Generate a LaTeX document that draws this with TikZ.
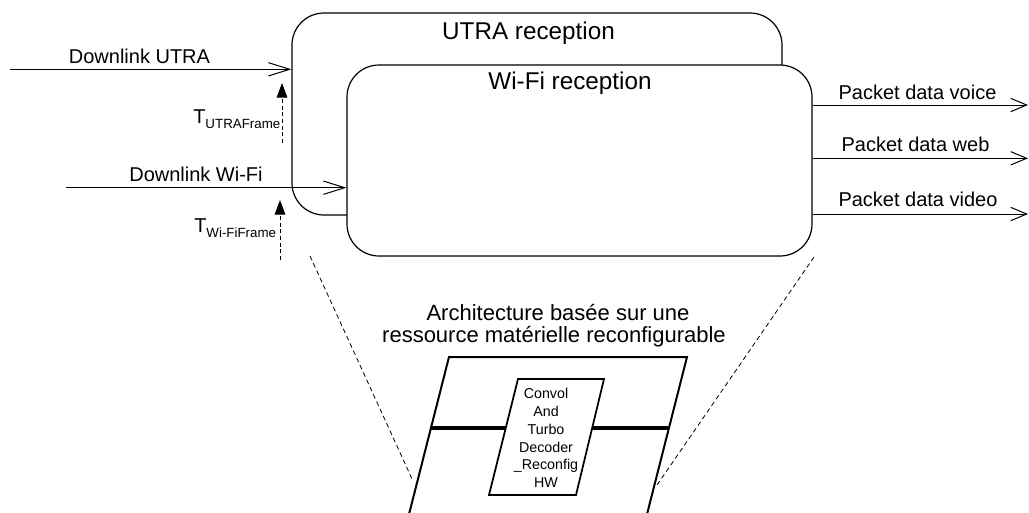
\documentclass[tikz,border=0pt]{standalone}
\usepackage{fontspec}
\setmainfont{Liberation Sans}
\usetikzlibrary{arrows.meta}
\begin{document}
\begin{tikzpicture}[x=0.75pt,y=-0.75pt,
  rbox/.style={draw, line width=0.9pt, rounded corners=24pt, fill=white, inner sep=0pt},
  title/.style={font=\fontsize{18.2}{22}\selectfont, anchor=base, inner sep=0pt},
  lbl/.style={font=\fontsize{15}{18}\selectfont, anchor=base, inner sep=0pt},
  flow/.style={line width=0.75pt, -{Straight Barb[length=16pt,width=10pt,line width=0.75pt]}},
  pflow/.style={line width=0.75pt, -{Straight Barb[length=12pt,width=10pt,line width=0.75pt]}},
  tarrow/.style={line width=0.75pt, dash pattern=on 3pt off 2pt, -{Triangle[length=11pt,width=8pt]}},
  zoomline/.style={line width=0.6pt, dash pattern=on 3.5pt off 2.5pt},
  para/.style={line width=1.5pt},
  bar/.style={line width=2.6pt},
  archtext/.style={font=\fontsize{16.5}{20}\selectfont, anchor=base, inner sep=0pt},
  hwtext/.style={font=\fontsize{10.7}{13.35}\selectfont, align=center, inner sep=0pt}
]
\useasboundingbox (0,0) rectangle (1029,512);

% reception boxes
\node[rbox, minimum width=367.5pt, minimum height=151.5pt] (utra) at (537,114) {};
\node[title] (utratitle) at (528.5,39) {UTRA reception};
\node[rbox, minimum width=348.75pt, minimum height=143.25pt] (wifi) at (579.5,160.5) {};
\node[title] (wifititle) at (570,89.5) {Wi-Fi reception};

% downlink inputs
\coordinate (ulsrc) at (10,69.3);
\draw[flow] (ulsrc) -- (ulsrc -| utra.west);
\node[lbl] (ullbl) at (139.5,63.3) {Downlink UTRA};
\coordinate (wlsrc) at (66,187.7);
\draw[flow] (wlsrc) -- (wlsrc -| wifi.west);
\node[lbl] (wllbl) at (196,181.7) {Downlink Wi-Fi};

% frame timing arrows
\coordinate (tu1) at (282,143);
\coordinate (tu2) at (282,83);
\draw[tarrow] (tu1) -- (tu2);
\node[lbl, anchor=base west] (tulbl) at (193,123) {T\raisebox{-5\dimexpr0.75pt\relax}{\fontsize{10}{12}\selectfont UTRAFrame}};
\coordinate (tw1) at (280,260);
\coordinate (tw2) at (280,200);
\draw[tarrow] (tw1) -- (tw2);
\node[lbl, anchor=base west] (twlbl) at (194,232) {T\raisebox{-5\dimexpr0.75pt\relax}{\fontsize{10}{12}\selectfont Wi-FiFrame}};

% packet outputs
\coordinate (pv) at (1028,105);
\draw[pflow] (wifi.east |- pv) -- (pv);
\node[lbl] (pvlbl) at (917.5,99.3) {Packet data voice};
\coordinate (pw) at (1028,158.3);
\draw[pflow] (wifi.east |- pw) -- (pw);
\node[lbl] (pwlbl) at (915.5,151.7) {Packet data web};
\coordinate (pd) at (1028,214);
\draw[pflow] (wifi.east |- pd) -- (pd);
\node[lbl] (pdlbl) at (918,206.7) {Packet data video};

% zoom lines
\coordinate (zl1) at (310,256);
\coordinate (zl2) at (413,481);
\draw[zoomline] (zl1) -- (zl2);
\coordinate (zr1) at (814,257);
\coordinate (zr2) at (657,485);
\draw[zoomline] (zr1) -- (zr2);

% architecture caption
\node[archtext] (arch1) at (558,320) {Architecture basée sur une};
\node[archtext] (arch2) at (554,342) {ressource matérielle reconfigurable};

% reconfigurable hardware parallelograms
\begin{scope}
\clip (0,0) rectangle (1029,512);
\coordinate (ptl) at (449,357);
\coordinate (ptr) at (687,357);
\coordinate (pbl) at (405,530);
\coordinate (pbr) at (643,530);
\draw[para, line join=miter] (pbl) -- (ptl) -- (ptr) -- (pbr);
\end{scope}
\coordinate (itl) at (518,379);
\coordinate (itr) at (604,379);
\coordinate (ibr) at (576,495);
\coordinate (ibl) at (489,495);
\draw[line width=1.3pt, line join=miter] (itl) -- (itr) -- (ibr) -- (ibl) -- cycle;
\coordinate (bl1) at (430.5,428);
\coordinate (bl2) at (506,428);
\coordinate (br1) at (592,428);
\coordinate (br2) at (668,428);
\draw[bar] (bl1) -- (bl2);
\draw[bar] (br1) -- (br2);
\node[hwtext, anchor=center] (hw) at (546,438) {Convol\\And\\Turbo\\Decoder\\\_Reconfig\\HW};
\end{tikzpicture}
\end{document}
